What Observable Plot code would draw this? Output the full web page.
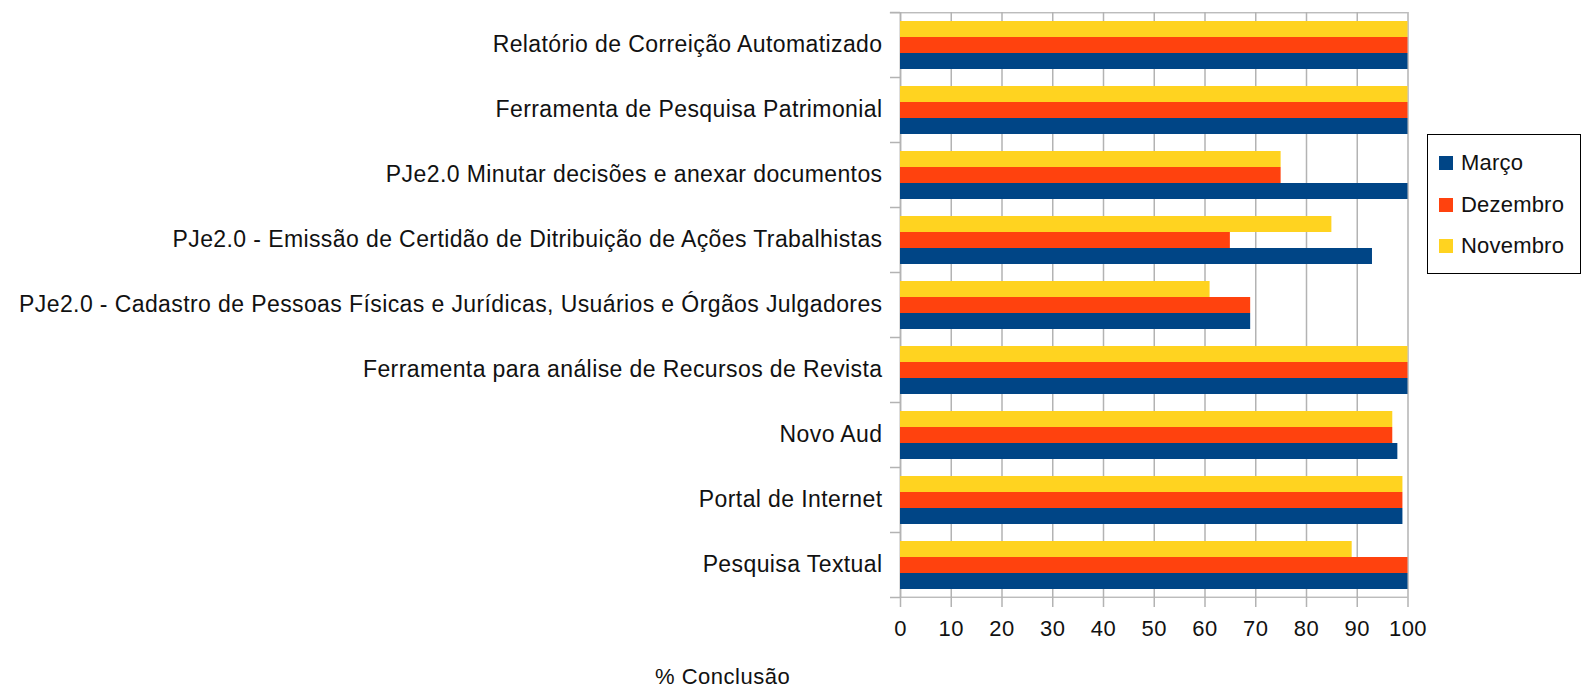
<!DOCTYPE html>
<html><head><meta charset="utf-8">
<script src="https://cdn.jsdelivr.net/npm/d3@7"></script>
<script src="https://cdn.jsdelivr.net/npm/@observablehq/plot@0.6"></script>
<style>
body{margin:0;background:#fff;font-family:"Liberation Sans",Arial,sans-serif;}
#wrap{position:relative;width:1582px;height:690px;overflow:hidden;}
#legend{position:absolute;left:1427px;top:134px;width:154px;height:140px;border:1px solid #000;box-sizing:border-box;background:#fff;}
.item{position:absolute;left:11px;height:28px;display:flex;align-items:center;font-size:22px;letter-spacing:0.2px;color:#111;white-space:nowrap;}
.sw{width:14px;height:14px;margin-right:8px;}
#xlabel{position:absolute;left:655px;top:664px;font-size:22px;letter-spacing:0.5px;color:#111;white-space:nowrap;}
</style></head><body><div id="wrap"></div>
<script>
const categories = [
  "Relatório de Correição Automatizado",
  "Ferramenta de Pesquisa Patrimonial",
  "PJe2.0 Minutar decisões e anexar documentos",
  "PJe2.0 - Emissão de Certidão de Ditribuição de Ações Trabalhistas",
  "PJe2.0 - Cadastro de Pessoas Físicas e Jurídicas, Usuários e Órgãos Julgadores",
  "Ferramenta para análise de Recursos de Revista",
  "Novo Aud",
  "Portal de Internet",
  "Pesquisa Textual"
];
const series = ["Março", "Dezembro", "Novembro"];
const seriesColors = ["#004586", "#ff420e", "#ffd320"];
const marco    = [100, 100, 100, 93, 69, 100, 98, 99, 100];
const dezembro = [100, 100,  75, 65, 69, 100, 97, 99, 100];
const novembro = [100, 100,  75, 85, 61, 100, 97, 99,  89];
const xTicks = [0, 10, 20, 30, 40, 50, 60, 70, 80, 90, 100];
const xLabel = "% Conclusão";

const values = {"Março": marco, "Dezembro": dezembro, "Novembro": novembro};
const rows = categories.flatMap((c, i) => series.map(s => ({c, s, v: values[s][i]})));
const topRow = [{c: categories[0], s: "Novembro"}];
const bottomRow = [{c: categories[categories.length - 1], s: "Março"}];
const grid = "#b3b3b3";

const plot = Plot.plot({
  width: 1582, height: 690,
  marginLeft: 900, marginRight: 174.5, marginTop: 12, marginBottom: 93,
  style: {fontFamily: "Liberation Sans, Arial, sans-serif", fontSize: "23px", letterSpacing: "0.4px", color: "#111", background: "#fff"},
  x: {domain: [0, 100], ticks: xTicks},
  y: {domain: ["Novembro", "Dezembro", "Março"], paddingInner: 0, paddingOuter: 0.5, axis: null},
  fy: {domain: categories, padding: 0},
  color: {domain: series, range: seriesColors},
  marks: [
    Plot.gridX(xTicks, {stroke: grid, strokeOpacity: 1, strokeWidth: 1.5}),
    Plot.ruleX([0], {stroke: grid, strokeWidth: 1.5}),
    Plot.barX(rows, {fy: "c", y: "s", x: "v", fill: "s"}),
    Plot.barX(topRow, {fy: "c", y: "s", x1: -2, x2: 100, fill: grid, insetTop: -8.875, insetBottom: 23.625}),
    Plot.barX(bottomRow, {fy: "c", y: "s", x1: 0, x2: 100, fill: grid, insetTop: 23.625, insetBottom: -8.875}),
    Plot.axisX({ticks: xTicks, tickSize: 10, tickPadding: 13, stroke: grid, strokeWidth: 1.5, fill: "#111", fontSize: 22, label: null}),
    Plot.axisFy({anchor: "left", tickSize: 0, tickPadding: 18, fill: "#111", label: null}),
    Plot.axisFy({anchor: "left", tickSize: 10, tickFormat: () => "", dy: -32.5, stroke: grid, strokeWidth: 1.5, label: null}),
    Plot.axisFy({anchor: "left", ticks: [categories[categories.length - 1]], tickSize: 10, tickFormat: () => "", dy: 32.5, stroke: grid, strokeWidth: 1.5, label: null})
  ]
});
const wrap = document.getElementById("wrap");
wrap.appendChild(plot);

const legend = document.createElement("div");
legend.id = "legend";
series.forEach((s, i) => {
  const it = document.createElement("div");
  it.className = "item";
  it.style.top = (14 + i * 41.5) + "px";
  const sw = document.createElement("span");
  sw.className = "sw";
  sw.style.background = seriesColors[i];
  it.appendChild(sw);
  it.appendChild(document.createTextNode(s));
  legend.appendChild(it);
});
wrap.appendChild(legend);
const xl = document.createElement("div");
xl.id = "xlabel";
xl.textContent = xLabel;
wrap.appendChild(xl);
</script></body></html>
